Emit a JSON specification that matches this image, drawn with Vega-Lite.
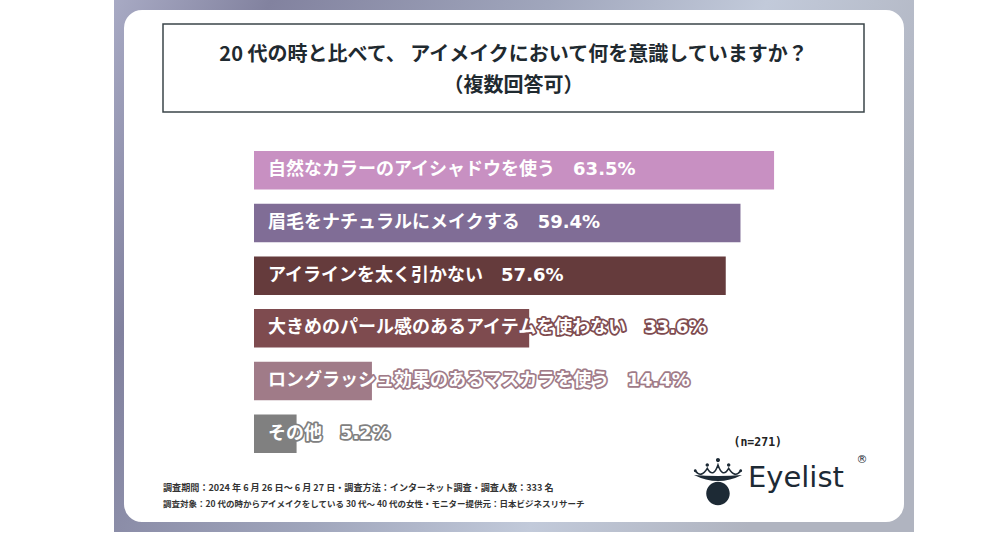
{
  "$schema": "https://vega.github.io/schema/vega-lite/v6.json",
  "width": 800,
  "height": 532,
  "autosize": {"type": "none"},
  "padding": {"left": 114, "top": 0, "right": 86, "bottom": 1},
  "background": "white",
  "config": {"view": {"stroke": null}, "font": "Noto Sans CJK JP"},
  "datasets": {
    "survey": [
      {"item": "自然なカラーのアイシャドウを使う", "pct": 63.5, "label": "自然なカラーのアイシャドウを使う　63.5%"},
      {"item": "眉毛をナチュラルにメイクする", "pct": 59.4, "label": "眉毛をナチュラルにメイクする　59.4%"},
      {"item": "アイラインを太く引かない", "pct": 57.6, "label": "アイラインを太く引かない　57.6%"},
      {"item": "大きめのパール感のあるアイテムを使わない", "pct": 33.6, "label": "大きめのパール感のあるアイテムを使わない　33.6%"},
      {"item": "ロングラッシュ効果のあるマスカラを使う", "pct": 14.4, "label": "ロングラッシュ効果のあるマスカラを使う　14.4%"},
      {"item": "その他", "pct": 5.2, "label": "その他　5.2%"}
    ]
  },
  "resolve": {"scale": {"x": "independent", "y": "independent", "color": "independent", "stroke": "independent"}},
  "layer": [
    {
      "data": {"values": [{}]},
      "mark": {"type": "rect", "fill": {"gradient": "linear", "x1": 0, "y1": 0, "x2": 1, "y2": 0.3, "stops": [
        {"offset": 0, "color": "#a8aac4"}, {"offset": 0.18, "color": "#82829f"}, {"offset": 0.5, "color": "#a0a6bc"}, {"offset": 0.75, "color": "#c2cada"}, {"offset": 1, "color": "#b0b4c0"}]}}
    },
    {
      "data": {"values": [{}]},
      "mark": {"type": "rect", "fill": "white", "cornerRadius": 28, "strokeWidth": 20, "clip": true, "stroke": {"gradient": "linear", "x1": 0, "y1": 0, "x2": 1, "y2": 0.3, "stops": [
        {"offset": 0, "color": "#a8aac4"}, {"offset": 0.18, "color": "#82829f"}, {"offset": 0.5, "color": "#a0a6bc"}, {"offset": 0.75, "color": "#c2cada"}, {"offset": 1, "color": "#b0b4c0"}]}}
    },
    {
      "data": {"values": [{"block": "question"}]},
      "layer": [
        {
          "mark": {"type": "rect", "fill": "white", "stroke": "#3b4549", "strokeWidth": 1.5},
          "encoding": {
            "x": {"datum": 0, "type": "quantitative", "scale": {"domain": [0, 1], "range": [49, 750]}, "axis": null},
            "x2": {"datum": 1},
            "y": {"datum": 0, "type": "quantitative", "scale": {"domain": [0, 1], "range": [24, 112]}, "axis": null},
            "y2": {"datum": 1}
          }
        },
        {
          "mark": {"type": "text", "align": "center", "baseline": "middle", "fontSize": 20, "fontWeight": "bold", "fill": "#1f2a30", "text": "20 代の時と比べて、 アイメイクにおいて何を意識していますか？"},
          "encoding": {"x": {"datum": 0.5, "type": "quantitative"}, "y": {"datum": 0.352, "type": "quantitative"}}
        },
        {
          "mark": {"type": "text", "align": "center", "baseline": "middle", "fontSize": 20, "fontWeight": "bold", "fill": "#1f2a30", "text": "（複数回答可）"},
          "encoding": {"x": {"datum": 0.5, "type": "quantitative"}, "y": {"datum": 0.705, "type": "quantitative"}}
        },
        {
          "mark": {"type": "text", "align": "left", "baseline": "middle", "fontSize": 9.1, "fontWeight": "bold", "fill": "#333333", "text": "調査期間：2024 年 6 月 26 日～ 6 月 27 日・調査方法：インターネット調査・調査人数：333 名"},
          "encoding": {"x": {"datum": 0, "type": "quantitative"}, "y": {"datum": 5.273, "type": "quantitative"}}
        },
        {
          "mark": {"type": "text", "align": "left", "baseline": "middle", "fontSize": 8.5, "fontWeight": "bold", "fill": "#333333", "text": "調査対象：20 代の時からアイメイクをしている 30 代～ 40 代の女性・モニター提供元：日本ビジネスリサーチ"},
          "encoding": {"x": {"datum": 0, "type": "quantitative"}, "y": {"datum": 5.455, "type": "quantitative"}}
        },
        {
          "mark": {"type": "text", "align": "right", "baseline": "middle", "fontSize": 11.5, "fontWeight": "bold", "font": "DejaVu Sans Mono", "fill": "#222222", "text": "(n=271)"},
          "encoding": {"x": {"datum": 0.883, "type": "quantitative"}, "y": {"datum": 4.761, "type": "quantitative"}}
        },
        {
          "mark": {"type": "text", "align": "left", "baseline": "alphabetic", "fontSize": 29, "font": "DejaVu Sans", "fill": "#1d2a35", "text": "Eyelist"},
          "encoding": {"x": {"datum": 0.8345, "type": "quantitative"}, "y": {"datum": 5.261, "type": "quantitative"}}
        },
        {
          "mark": {"type": "text", "align": "center", "baseline": "middle", "fontSize": 11, "font": "DejaVu Sans", "fill": "#1d2a35", "text": "®"},
          "encoding": {"x": {"datum": 0.997, "type": "quantitative"}, "y": {"datum": 4.96, "type": "quantitative"}}
        },
        {
          "mark": {"type": "point", "filled": true, "size": 2304, "opacity": 1, "color": "#1d2a35",
            "shape": "M -0.49 0.475 A 0.49 0.49 0 1 0 0.49 0.475 A 0.49 0.49 0 1 0 -0.49 0.475 Z M -1 -0.29 Q 0 0.21 1 -0.29 Q 0 -0.21 -1 -0.29 Z M -0.085 -0.92 A 0.085 0.085 0 1 0 0.085 -0.92 A 0.085 0.085 0 1 0 -0.085 -0.92 Z M -0.516 -0.71 A 0.07 0.07 0 1 0 -0.376 -0.71 A 0.07 0.07 0 1 0 -0.516 -0.71 Z M 0.376 -0.71 A 0.07 0.07 0 1 0 0.516 -0.71 A 0.07 0.07 0 1 0 0.376 -0.71 Z M -1.006 -0.47 A 0.06 0.06 0 1 0 -0.886 -0.47 A 0.06 0.06 0 1 0 -1.006 -0.47 Z M 0.886 -0.47 A 0.06 0.06 0 1 0 1.006 -0.47 A 0.06 0.06 0 1 0 0.886 -0.47 Z"},
          "encoding": {"x": {"datum": 0.7917, "type": "quantitative"}, "y": {"datum": 5.205, "type": "quantitative"}}
        },
        {
          "mark": {"type": "point", "filled": false, "size": 2304, "opacity": 1, "strokeWidth": 1.6, "color": "#1d2a35",
            "shape": "M -0.946 -0.47 Q -0.704 -0.14 -0.446 -0.57 Q -0.197 -0.14 0 -0.71 Q 0.197 -0.14 0.446 -0.57 Q 0.704 -0.14 0.946 -0.47"},
          "encoding": {"x": {"datum": 0.7917, "type": "quantitative"}, "y": {"datum": 5.205, "type": "quantitative"}}
        }
      ]
    },
    {
      "data": {"name": "survey"},
      "encoding": {
        "y": {"field": "item", "type": "nominal", "sort": null, "scale": {"type": "band", "range": [151, 453], "paddingInner": 0.27, "paddingOuter": 0}, "axis": null}
      },
      "layer": [
        {
          "mark": {"type": "bar"},
          "encoding": {
            "x": {"field": "pct", "type": "quantitative", "scale": {"domain": [0, 100], "range": [140, 959]}, "axis": null},
            "color": {"field": "item", "type": "nominal", "sort": null, "legend": null, "scale": {
              "domain": ["自然なカラーのアイシャドウを使う", "眉毛をナチュラルにメイクする", "アイラインを太く引かない", "大きめのパール感のあるアイテムを使わない", "ロングラッシュ効果のあるマスカラを使う", "その他"],
              "range": ["#c890c2", "#806d96", "#653b3c", "#7e4b4f", "#a07b88", "#808080"]}}
          }
        },
        {
          "mark": {"type": "text", "align": "left", "baseline": "middle", "dx": 14, "fontSize": 18, "fontWeight": "bold", "font": "DejaVu Sans, Noto Sans CJK JP", "fill": "white", "strokeWidth": 3.5, "strokeJoin": "round"},
          "encoding": {
            "x": {"datum": 0, "type": "quantitative"},
            "text": {"field": "label"},
            "stroke": {"field": "item", "type": "nominal", "sort": null, "legend": null, "scale": {
              "domain": ["自然なカラーのアイシャドウを使う", "眉毛をナチュラルにメイクする", "アイラインを太く引かない", "大きめのパール感のあるアイテムを使わない", "ロングラッシュ効果のあるマスカラを使う", "その他"],
              "range": ["#c890c2", "#806d96", "#653b3c", "#7e4b4f", "#a07b88", "#808080"]}}
          }
        },
        {
          "mark": {"type": "text", "align": "left", "baseline": "middle", "dx": 14, "fontSize": 18, "fontWeight": "bold", "font": "DejaVu Sans, Noto Sans CJK JP", "fill": "white"},
          "encoding": {
            "x": {"datum": 0, "type": "quantitative"},
            "text": {"field": "label"}
          }
        }
      ]
    }
  ]
}
